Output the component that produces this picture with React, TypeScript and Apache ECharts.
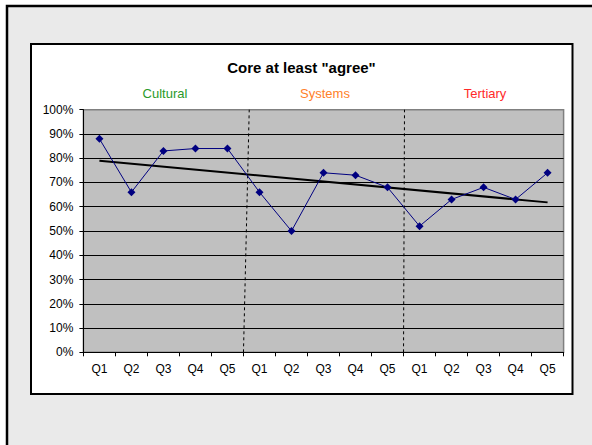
import React, { useEffect, useRef } from "react";
import * as echarts from "echarts";

const categories = ["Q1", "Q2", "Q3", "Q4", "Q5", "Q1", "Q2", "Q3", "Q4", "Q5", "Q1", "Q2", "Q3", "Q4", "Q5"];
const groupNames = ["Cultural", "Systems", "Tertiary"];
const groupColors = ["#2a9a2a", "#ff7f2a", "#ff2a2a"];
const agreeValues = [88, 66, 83, 84, 84, 66, 50, 74, 73, 68, 52, 63, 68, 63, 74];
const trendStart = 79.0;
const trendEnd = 61.8;
const yTicks = [0, 10, 20, 30, 40, 50, 60, 70, 80, 90, 100];

const FONT = "'Liberation Sans', Arial, sans-serif";

export default function App() {
  const ref = useRef<HTMLDivElement>(null);
  useEffect(() => {
    document.body.style.margin = "0";
    const chart = echarts.init(ref.current!, null, { renderer: "svg" });
    const gridLeft = 83.4;
    const gridRight = 563.6;
    const n = categories.length;
    const perGroup = n / groupNames.length;
    const catW = (gridRight - gridLeft) / n;
    const groupTexts = groupNames.map((g, i) => ({
      type: "text",
      x: gridLeft + catW * perGroup * (i + 0.5) + 1.5,
      y: 93,
      z: 10,
      style: {
        text: g,
        fill: groupColors[i],
        font: `13px ${FONT}`,
        textAlign: "center",
        textVerticalAlign: "middle",
      },
    }));
    const splitColors = yTicks.map((t) => (t === 100 ? "#808080" : "#000000"));
    chart.setOption({
      animation: false,
      backgroundColor: "#ffffff",
      graphic: [
        {
          type: "rect",
          z: -10,
          shape: { x: 7, y: 6, width: 700, height: 600 },
          style: { fill: "#eaeaea", stroke: "#000", lineWidth: 2.5 },
        },
        {
          type: "rect",
          z: -9,
          shape: { x: 31, y: 44, width: 541.5, height: 350 },
          style: { fill: "#ffffff", stroke: "#000", lineWidth: 2 },
        },
        {
          type: "text",
          x: 301.5,
          y: 67,
          z: 10,
          style: {
            text: 'Core at least "agree"',
            fill: "#000",
            font: `bold 15px ${FONT}`,
            textAlign: "center",
            textVerticalAlign: "middle",
          },
        },
        ...groupTexts,
      ],
      grid: {
        left: gridLeft,
        right: 592 - gridRight,
        top: 109.7,
        bottom: 445 - 352.3,
        show: true,
        backgroundColor: "#c0c0c0",
        borderColor: "#808080",
        borderWidth: 1.5,
        containLabel: false,
      },
      xAxis: [
        {
          type: "category",
          data: categories,
          boundaryGap: true,
          axisLine: { show: true, lineStyle: { color: "#000", width: 1 } },
          axisTick: { show: true, length: 4, lineStyle: { color: "#000" }, interval: 0 },
          axisLabel: { color: "#000", fontFamily: FONT, fontSize: 12, margin: 11, interval: 0 },
          splitLine: { show: false },
        },
        {
          type: "value",
          min: 0,
          max: n,
          show: false,
        },
      ],
      yAxis: {
        type: "value",
        min: 0,
        max: 100,
        interval: 10,
        axisLine: { show: true, lineStyle: { color: "#000", width: 1 } },
        axisTick: { show: true, length: 4, lineStyle: { color: "#000" } },
        axisLabel: {
          color: "#000",
          fontFamily: FONT,
          fontSize: 12,
          margin: 10,
          formatter: "{value}%",
        },
        splitLine: { show: true, lineStyle: { color: splitColors, width: 1 } },
      },
      series: [
        {
          type: "line",
          xAxisIndex: 1,
          data: [],
          silent: true,
          markLine: {
            silent: true,
            symbol: "none",
            label: { show: false },
            lineStyle: { color: "#000", type: [3, 3], width: 1 },
            data: [
              [{ coord: [perGroup, 0] }, { coord: [perGroup + 0.18, 100] }],
              [{ coord: [perGroup * 2, 0] }, { coord: [perGroup * 2 + 0.03, 100] }],
            ],
          },
        },
        {
          type: "line",
          name: "agree",
          data: agreeValues,
          symbol: "diamond",
          symbolSize: 8,
          itemStyle: { color: "#000080" },
          lineStyle: { color: "#000080", width: 1 },
          z: 5,
        },
        {
          type: "line",
          name: "trend",
          xAxisIndex: 1,
          data: [
            [0.5, trendStart],
            [n - 0.5, trendEnd],
          ],
          symbol: "none",
          lineStyle: { color: "#000", width: 2 },
          z: 4,
        },
      ],
    });
    return () => chart.dispose();
  }, []);
  return <div ref={ref} style={{ position: "absolute", left: 0, top: 0, width: 592, height: 445 }} />;
}
